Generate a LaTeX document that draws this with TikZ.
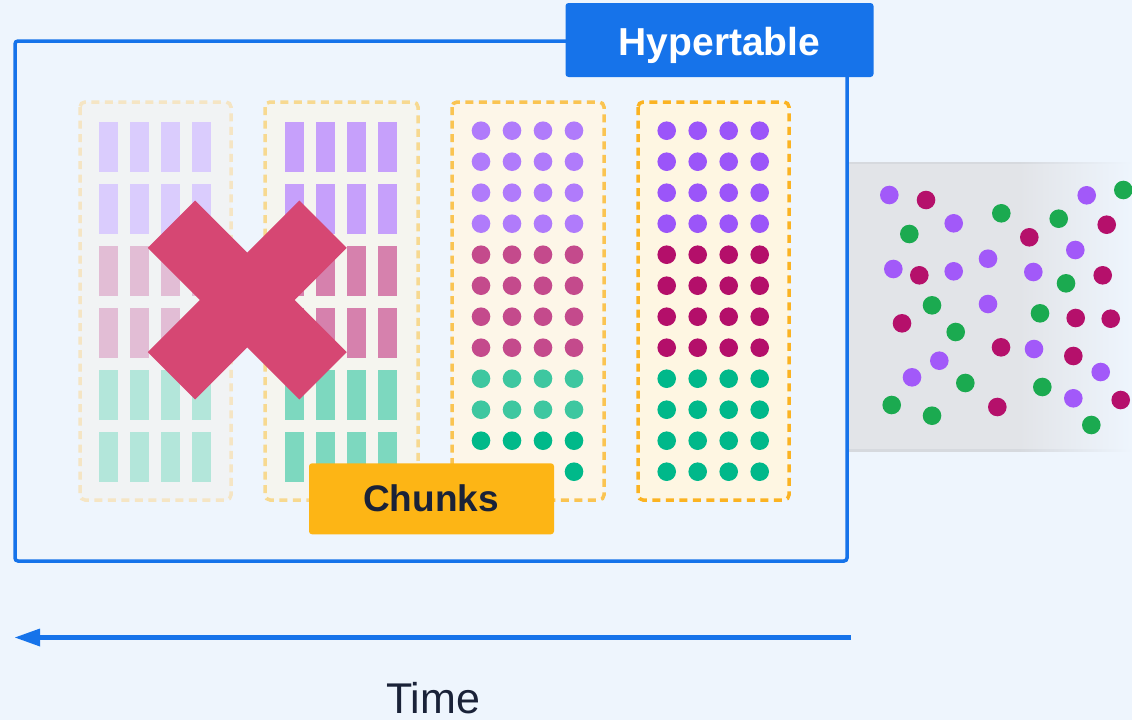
\documentclass[tikz,border=0pt]{standalone}
\usepackage{fontspec}
\setmainfont{Liberation Sans}
\definecolor{bg}{HTML}{EEF5FD}
\definecolor{blue}{HTML}{1673EA}
\definecolor{navy}{HTML}{1A2238}
\definecolor{amber}{HTML}{FDB515}
\definecolor{xred}{HTML}{D64773}
\definecolor{cfillA}{HTML}{F1F3F4}
\definecolor{cdashA}{HTML}{F5E5C4}
\definecolor{cfillB}{HTML}{F5F5EF}
\definecolor{cdashB}{HTML}{F7D990}
\definecolor{cfillC}{HTML}{FDF6E8}
\definecolor{cdashC}{HTML}{FAC452}
\definecolor{cfillD}{HTML}{FEF6E2}
\definecolor{cdashD}{HTML}{FBB322}
\definecolor{purA}{HTML}{DACCFD}
\definecolor{pinA}{HTML}{E2BDD5}
\definecolor{tealA}{HTML}{B3E6DA}
\definecolor{purB}{HTML}{C6A0FB}
\definecolor{pinB}{HTML}{D681AD}
\definecolor{tealB}{HTML}{7DD8BF}
\definecolor{purC}{HTML}{B07BFB}
\definecolor{magC}{HTML}{C44A8C}
\definecolor{tealC}{HTML}{3EC7A0}
\definecolor{grnC}{HTML}{00B98A}
\definecolor{purD}{HTML}{9B55F9}
\definecolor{magD}{HTML}{B40F6A}
\definecolor{grnD}{HTML}{00B88A}
\definecolor{dotP}{HTML}{A259F9}
\definecolor{dotM}{HTML}{B5106B}
\definecolor{dotG}{HTML}{1BAA50}
\definecolor{graybox}{HTML}{E2E4E8}
\definecolor{grayline}{HTML}{D6D9DE}
\pgfdeclarehorizontalshading{grayfade}{100bp}{color(0bp)=(graybox); color(25bp)=(graybox); color(55bp)=(graybox); color(75bp)=(bg); color(100bp)=(bg)}
\pgfdeclarehorizontalshading{linefade}{100bp}{color(0bp)=(grayline); color(25bp)=(grayline); color(55bp)=(grayline); color(75bp)=(bg); color(100bp)=(bg)}
\begin{document}
\begin{tikzpicture}[x=1pt,y=-1pt,
  chunkbox/.style={line width=3.5pt, dash pattern=on 8pt off 5.5pt, rounded corners=5pt},
  xarm/.style={draw=xred, line width=67pt, line cap=butt},
  labelbox/.style={rounded corners=3pt, inner sep=0pt, anchor=center},
]
\useasboundingbox (0,0) rectangle (1132,720);
\fill[bg] (0,0) rectangle (1132,720);

% right region with scattered dots
\shade[shading=grayfade] (849,163) rectangle (1132,450);
\shade[shading=linefade] (849,162.3) rectangle (1132,163.8);
\shade[shading=linefade] (849,449.5) rectangle (1132,451);

\foreach \x/\y in {889.3/195, 953.7/223.3, 1086.7/195.3, 1075.3/250, 893.3/269, 953.7/271.3, 988/258.7, 1033.3/272, 988/304, 1034/349, 939.3/360.7, 912/377.3, 1100.7/372, 1073.3/398.3}
  \fill[dotP] (\x,\y) circle[radius=9.3pt];
\foreach \x/\y in {926/200, 1029.3/237.3, 1106.7/224.7, 919.3/275.3, 1102.7/275.3, 902/323.3, 1075.7/318, 1110.7/318.7, 1001/347.3, 1073.3/356, 1120.7/400, 997.3/407}
  \fill[dotM] (\x,\y) circle[radius=9.3pt];
\foreach \x/\y in {1001.3/213.3, 909.3/234, 1058.7/218.7, 1123.3/190, 1066/283.3, 932/305.3, 955.7/332, 1040/313.3, 965.3/383, 1042.3/387, 891.7/405, 932/415.7, 1091.3/425}
  \fill[dotG] (\x,\y) circle[radius=9.3pt];

% Hypertable frame
\draw[blue, line width=3.5pt, rounded corners=3pt] (15,41) rectangle (847,561);

% chunk boxes
\draw[chunkbox, draw=cdashA, fill=cfillA] (80,102) rectangle (231,500);
\draw[chunkbox, draw=cdashB, fill=cfillB] (265,102) rectangle (418,500);
\draw[chunkbox, draw=cdashC, fill=cfillC] (452,102) rectangle (604,500);
\draw[chunkbox, draw=cdashD, fill=cfillD] (638,102) rectangle (789,500);

% chunk 1 and 2 bars
\foreach \r/\cA/\cB in {122/purA/purB, 184/purA/purB, 246/pinA/pinB, 308/pinA/pinB, 370/tealA/tealB, 432/tealA/tealB} {
  \foreach \x in {99,130,161,192}
    \fill[\cA] (\x,\r) rectangle ++(18.7,49.5);
  \foreach \x in {285.3,316.3,347.3,378.3}
    \fill[\cB] (\x,\r) rectangle ++(18.7,49.5);
}

% chunk 3 and 4 dots
\foreach \y/\cC/\cD in {130.7/purC/purD, 161.7/purC/purD, 192.7/purC/purD, 223.7/purC/purD, 254.7/magC/magD, 285.7/magC/magD, 316.7/magC/magD, 347.7/magC/magD, 378.7/tealC/grnD, 409.7/tealC/grnD, 440.7/grnC/grnD} {
  \foreach \x in {481,512,543,574}
    \fill[\cC] (\x,\y) circle[radius=9.3pt];
  \foreach \x in {666.7,697.7,728.7,759.7}
    \fill[\cD] (\x,\y) circle[radius=9.3pt];
}
\fill[grnC] (574,471.7) circle[radius=9.3pt];
\foreach \x in {666.7,697.7,728.7,759.7}
  \fill[grnD] (\x,471.7) circle[radius=9.3pt];

% cross
\draw[xarm] (171.5,224.2) -- (323.1,375.8);
\draw[xarm] (323.1,224.2) -- (171.5,375.8);

% labels
\node[labelbox, fill=blue, minimum width=308pt, minimum height=74pt] (hyperbox) at (719.5,40) {};
\node[text=white, font=\bfseries\fontsize{39}{47}\selectfont, anchor=base, inner sep=0pt] (hyper) at (719.5,55) {Hypertable};
\node[labelbox, fill=amber, minimum width=245pt, minimum height=71pt] (chunkbox) at (431.5,498.8) {};
\node[text=navy, font=\bfseries\fontsize{37}{44}\selectfont, anchor=base, inner sep=0pt] (chunks) at (431,511) {Chunks};

% time arrow
\coordinate (tstart) at (851,637.5);
\coordinate (tend) at (15,637.5);
\draw[blue, line width=4.5pt] (tstart) -- (40,637.5);
\fill[blue] (tend) -- (40,628.5) -- (40,646.5) -- cycle;
\node[text=navy, font=\fontsize{43}{51}\selectfont, anchor=base, inner sep=0pt] (time) at (433,713) {Time};
\end{tikzpicture}
\end{document}
